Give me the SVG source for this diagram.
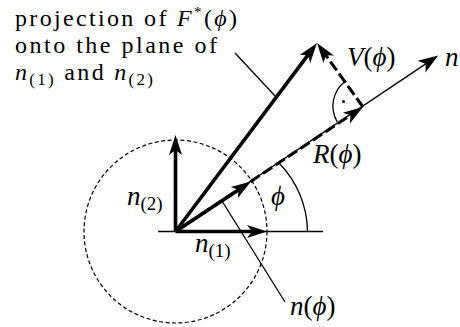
<svg xmlns="http://www.w3.org/2000/svg" width="460" height="327" viewBox="0 0 460 327">
<style>
text{font-family:"Liberation Serif","DejaVu Serif",serif;font-size:27px;fill:#000}
.it{font-style:italic}
.sub{font-size:19px}
.blk{font-size:24px}
.blk .sub{font-size:17px}
.thin{stroke:#000;stroke-width:1.3;fill:none}
.vec{stroke:#000;stroke-width:3.6;fill:none}
.dsh{stroke:#000;stroke-width:3;fill:none;stroke-dasharray:11 4}
</style>
<defs>
<marker id="ah" markerUnits="userSpaceOnUse" viewBox="0 0 22 14" markerWidth="22" markerHeight="14" refX="12" refY="7" orient="auto" overflow="visible">
<path d="M20,7 L0,0.5 L5,7 L0,13.5 Z" fill="#000"/>
</marker>
<marker id="ahs" markerUnits="userSpaceOnUse" viewBox="0 0 22 14" markerWidth="22" markerHeight="14" refX="14" refY="7" orient="auto" overflow="visible">
<path d="M20,7 L0,0 L5,7 L0,14 Z" fill="#000"/>
</marker>
</defs>

<g id="axis-circle">
<circle cx="175.5" cy="231.5" r="91.5" fill="none" stroke="#000" stroke-width="1.2" stroke-dasharray="4 2.5"/>
</g>

<g id="connectors">
<line class="thin" x1="158" y1="231.5" x2="323" y2="231.5"/>
<line class="thin" x1="175.5" y1="231.5" x2="433.2" y2="58.9" marker-end="url(#ahs)"/>
<path class="thin" d="M279.5,163.5 A100,100 0 0 1 307.5,231.5"/>
<path class="thin" d="M345,81.5 A31,31 0 0 0 337.2,121.8"/>
<circle cx="343.5" cy="101.5" r="1.5" fill="#000"/>
<line class="thin" x1="235" y1="53" x2="276" y2="97"/>
<line class="thin" x1="222" y1="201" x2="285" y2="302"/>
</g>

<g id="vectors">
<line class="vec" x1="175.5" y1="231.5" x2="259" y2="231.5" marker-end="url(#ah)"/>
<line class="vec" x1="175.5" y1="231.5" x2="175.5" y2="143" marker-end="url(#ah)"/>
<line class="vec" x1="175.5" y1="231.5" x2="244.3" y2="185.9" marker-end="url(#ah)"/>
<line class="vec" stroke-width="3.2" x1="175.5" y1="231.5" x2="312.2" y2="49.4" marker-end="url(#ah)"/>
<line class="dsh" x1="175.5" y1="231.5" x2="356.3" y2="111.4" marker-end="url(#ah)" stroke-dasharray="14 3"/>
<line class="dsh" x1="363" y1="107" x2="321.7" y2="49.5" marker-end="url(#ah)"/>
</g>

<g id="labels">
<text class="blk" x="15" y="26" textLength="222" lengthAdjust="spacing">projection of <tspan class="it">F</tspan><tspan font-size="15" dy="-9">*</tspan><tspan dy="9">(</tspan><tspan class="it">ϕ</tspan>)</text>
<text class="blk" x="15" y="53" textLength="202" lengthAdjust="spacing">onto the plane of</text>
<text class="blk" x="15" y="80" textLength="138" lengthAdjust="spacing"><tspan class="it">n</tspan><tspan class="sub" dy="5">(1)</tspan><tspan dy="-5"> and </tspan><tspan class="it">n</tspan><tspan class="sub" dy="5">(2)</tspan></text>
<text x="127" y="205"><tspan class="it">n</tspan><tspan class="sub" dy="5">(2)</tspan></text>
<text x="195" y="252"><tspan class="it">n</tspan><tspan class="sub" dy="5">(1)</tspan></text>
<text x="271" y="205" class="it">ϕ</text>
<text x="313" y="163"><tspan class="it">R</tspan>(<tspan class="it">ϕ</tspan>)</text>
<text x="347" y="66"><tspan class="it">V</tspan>(<tspan class="it">ϕ</tspan>)</text>
<text x="445" y="66" class="it">n</text>
<text x="290" y="315"><tspan class="it">n</tspan>(<tspan class="it">ϕ</tspan>)</text>
</g>
</svg>
